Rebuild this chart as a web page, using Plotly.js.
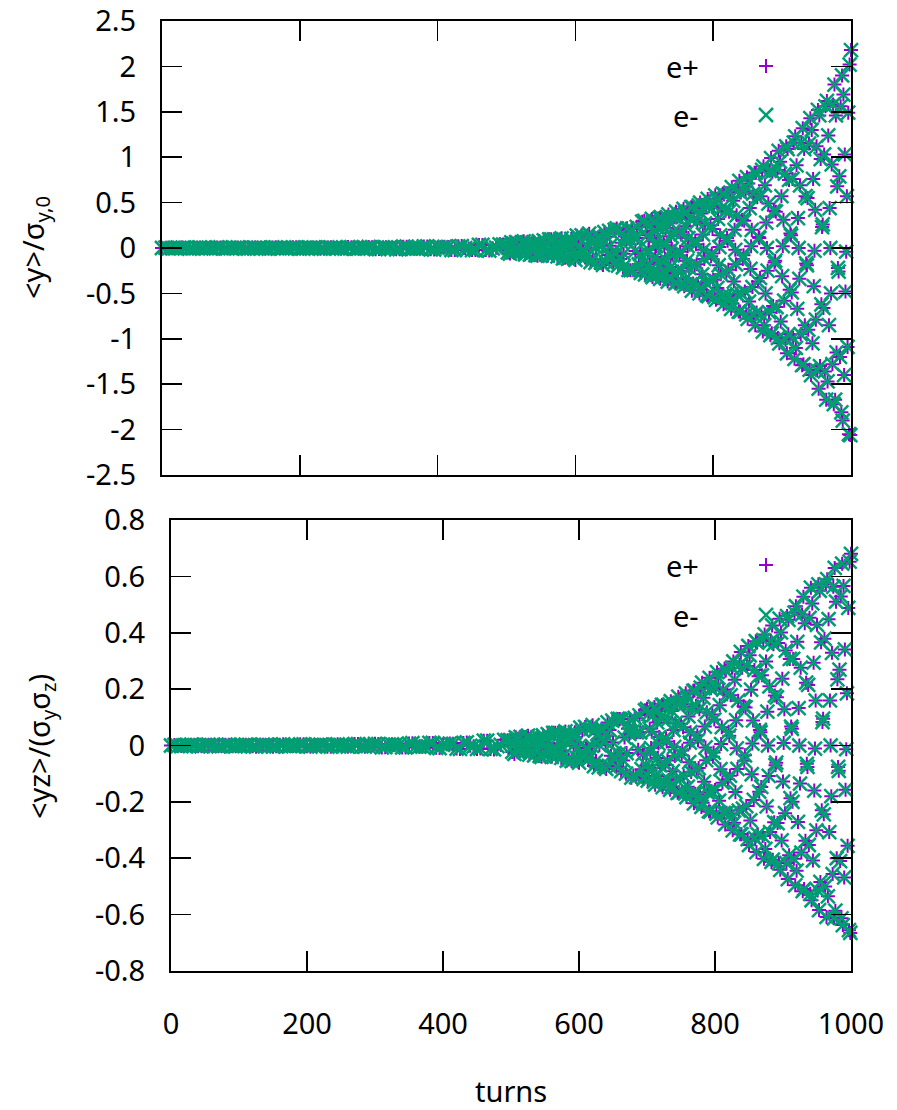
<!DOCTYPE html>
<html>
<head>
<meta charset="utf-8">
<script src="https://cdn.plot.ly/plotly-3.0.1.min.js"></script>
<style>html,body{margin:0;padding:0;background:#fff;}#plot{width:897px;height:1110px;}</style>
</head>
<body>
<div id="plot"></div>
<script>
// ---- data (read/; e+ and e- coincide within the marker size) ----
var turnsEarlyA = [0,10,20,30,40,50,60,70,80,90,100,110,120,130,140,150,160,170,180,190,200,210,220,230,240,250,260,270,280,290,300,310,320,330,340,350,360,370,380,390,400,410,420,430,440,450,460,470,480,490];
var turnsEarlyB = [5,15,25,35,45,55,65,75,85,95,105,115,125,135,145,155,165,175,185,195,205,215,225,235,245,255,265,275,285,295,305,315,325,335,345,355,365,375,385,395,405,415,425,435,445,455,465,475,485,495];
var turnsMidA = [500,505,510,515,520,525,530,535,540,545,550,555,560,565,570,575,580,585,590,595,600,605,610,615,620,625,630,635,640,645,650,655,660,665,670,675,680,685,690,695];
var turnsMidB = [502,507,512,517,522,527,532,537,542,547,552,557,562,567,572,577,582,587,592,597,602,607,612,617,622,627,632,637,642,647,652,657,662,667,672,677,682,687,692,697];
var turnsMidC = [504,509,514,519,524,529,534,539,544,549,554,559,564,569,574,579,584,589,594,599,604,609,614,619,624,629,634,639,644,649,654,659,664,669,674,679,684,689,694,699];
var turnsLateA = [700,703,706,709,712,715,718,721,724,727,730,733,736,739,742,745,748,751,754,757,760,763,766,769,772,775,778,781,784,787,790,793,796,799,802,805,808,811,814,817,820,823,826,829,832,835,838,841,844,847,850,853,856,859,862,865,868,871,874,877,880,883,886,889,892,895,898,901,904,907,910,913,916,919,922,925,928,931,934,937,940,943,946,949,952,955,958,961,964,967,970,973,976,979,982,985,988,991,994,997,1000];
var turnsLateB = [701,704,707,710,713,716,719,722,725,728,731,734,737,740,743,746,749,752,755,758,761,764,767,770,773,776,779,782,785,788,791,794,797,800,803,806,809,812,815,818,821,824,827,830,833,836,839,842,845,848,851,854,857,860,863,866,869,872,875,878,881,884,887,890,893,896,899,902,905,908,911,914,917,920,923,926,929,932,935,938,941,944,947,950,953,956,959,962,965,968,971,974,977,980,983,986,989,992,995,998];
var turnsLateC = [702,705,708,711,714,717,720,723,726,729,732,735,738,741,744,747,750,753,756,759,762,765,768,771,774,777,780,783,786,789,792,795,798,801,804,807,810,813,816,819,822,825,828,831,834,837,840,843,846,849,852,855,858,861,864,867,870,873,876,879,882,885,888,891,894,897,900,903,906,909,912,915,918,921,924,927,930,933,936,939,942,945,948,951,954,957,960,963,966,969,972,975,978,981,984,987,990,993,996,999];

// <y>/sigma_y,0
var yEarlyA = [0.000,-0.004,0.000,0.005,-0.006,0.003,0.001,-0.005,0.006,-0.003,-0.002,0.006,-0.006,0.002,0.003,-0.007,0.006,-0.001,-0.004,0.007,-0.006,0.000,0.006,-0.008,0.006,0.001,-0.008,0.010,-0.006,-0.002,0.011,-0.013,0.006,0.005,-0.014,0.014,-0.005,-0.008,0.017,-0.015,0.003,0.013,-0.022,0.018,-0.001,-0.023,0.034,-0.023,-0.004,0.040];
var yEarlyB = [0.003,-0.004,0.002,0.001,-0.005,0.006,-0.002,-0.003,0.006,-0.005,0.001,0.004,-0.007,0.005,0.000,-0.006,0.007,-0.004,-0.002,0.007,-0.007,0.003,0.004,-0.008,0.007,-0.001,-0.006,0.009,-0.007,0.000,0.009,-0.012,0.008,0.002,-0.013,0.015,-0.008,-0.005,0.017,-0.017,0.007,0.011,-0.023,0.021,-0.005,-0.022,0.034,-0.028,0.003,0.038];
var yMidA = [0.036,-0.061,0.049,-0.002,-0.050,0.073,-0.050,-0.008,0.066,-0.084,0.049,0.023,-0.084,0.096,-0.045,-0.041,0.107,-0.107,0.036,0.065,-0.131,0.116,-0.023,-0.094,0.158,-0.122,0.003,0.129,-0.186,0.124,0.024,-0.170,0.215,-0.121,-0.062,0.217,-0.244,0.110,0.109,-0.273];
var yMidB = [-0.049,0.061,-0.034,-0.018,0.062,-0.069,0.031,0.031,-0.078,0.077,-0.025,-0.049,0.095,-0.083,0.015,0.069,-0.115,0.087,0.000,-0.094,0.135,-0.088,-0.020,0.125,-0.155,0.086,0.048,-0.159,0.175,-0.076,-0.083,0.200,-0.193,0.059,0.126,-0.242,0.208,-0.032,-0.179,0.290];
var yMidC = [0.000,-0.045,0.065,-0.043,-0.010,0.060,-0.074,0.041,0.023,-0.077,0.085,-0.037,-0.040,0.096,-0.093,0.029,0.061,-0.117,0.100,-0.015,-0.086,0.140,-0.105,-0.003,0.117,-0.165,0.107,0.029,-0.154,0.188,-0.101,-0.061,0.197,-0.212,0.088,0.104,-0.244,0.233,-0.067,-0.157];
var yLateA = [0.30,-0.21,-0.02,0.25,-0.32,0.19,0.07,-0.29,0.34,-0.16,
  -0.12,0.34,-0.34,0.13,0.18,-0.39,0.34,-0.08,-0.25,0.43,
  -0.34,0.02,0.32,-0.47,0.32,0.04,-0.40,0.50,-0.29,-0.12,
  0.47,-0.53,0.25,0.21,-0.54,0.54,-0.19,-0.29,0.60,-0.54,
  0.11,0.40,-0.67,0.52,-0.02,-0.51,0.74,-0.50,-0.08,0.62,
  -0.78,0.44,0.20,-0.74,0.83,-0.37,-0.33,0.86,-0.85,0.28,
  0.49,-0.96,0.84,-0.16,-0.65,1.07,-0.81,0.02,0.82,-1.16,
  0.75,0.14,-0.99,1.23,-0.67,-0.34,1.16,-1.28,0.57,0.55,
  -1.34,1.30,-0.42,-0.79,1.52,-1.30,0.23,1.03,-1.67,1.24,
  0.00,-1.28,1.80,-1.15,-0.26,1.56,-1.90,1.03,0.57,-2.05,
  2.18];
var yLateB = [-0.29,0.14,0.11,-0.30,0.29,-0.10,-0.16,0.33,-0.29,0.06,
  0.22,-0.37,0.28,-0.01,-0.28,0.40,-0.26,-0.04,0.34,-0.42,
  0.24,0.11,-0.40,0.45,-0.20,-0.18,0.47,-0.46,0.15,0.27,
  -0.52,0.46,-0.09,-0.35,0.58,-0.44,0.01,0.44,-0.62,0.41,
  0.08,-0.53,0.67,-0.37,-0.18,0.63,-0.70,0.31,0.30,-0.73,
  0.71,-0.23,-0.43,0.83,-0.71,0.12,0.57,-0.92,0.69,0.00,
  -0.71,0.99,-0.64,-0.14,0.86,-1.05,0.57,0.31,-1.01,1.09,
  -0.46,-0.49,1.16,-1.10,0.33,0.69,-1.29,1.09,-0.17,-0.90,
  1.43,-1.05,-0.03,1.12,-1.55,0.98,0.26,-1.36,1.62,-0.85,
  -0.50,1.58,-1.67,0.68,0.79,-1.81,1.69,-0.48,-1.09,2.02];
var yLateC = [0.26,-0.06,-0.18,0.32,-0.25,0.02,0.23,-0.34,0.23,0.03,
  -0.28,0.37,-0.21,-0.08,0.34,-0.38,0.18,0.15,-0.39,0.39,
  -0.14,-0.22,0.45,-0.39,0.08,0.29,-0.50,0.38,-0.02,-0.38,
  0.54,-0.36,-0.06,0.46,-0.57,0.32,0.14,-0.53,0.59,-0.27,
  -0.24,0.61,-0.61,0.20,0.36,-0.70,0.61,-0.12,-0.48,0.78,
  -0.59,0.02,0.60,-0.85,0.56,0.11,-0.73,0.90,-0.50,-0.25,
  0.85,-0.94,0.41,0.40,-0.99,0.95,-0.31,-0.58,1.12,-0.95,
  0.16,0.76,-1.22,0.91,0.00,-0.95,1.32,-0.85,-0.19,1.15,
  -1.40,0.76,0.42,-1.35,1.46,-0.62,-0.66,1.56,-1.47,0.44,
  0.92,-1.72,1.46,-0.22,-1.20,1.90,-1.40,-0.04,1.49,-2.06];

// <yz>/(sigma_y sigma_z)
var yzEarlyA = [0.000,-0.002,0.000,0.003,-0.003,0.002,0.001,-0.003,0.003,-0.002,-0.001,0.003,-0.003,0.001,0.002,-0.004,0.003,-0.001,-0.002,0.004,-0.003,0.000,0.003,-0.004,0.003,0.001,-0.004,0.005,-0.003,-0.001,0.006,-0.007,0.003,0.003,-0.007,0.007,-0.003,-0.004,0.009,-0.008,0.002,0.007,-0.011,0.009,-0.001,-0.012,0.017,-0.012,-0.002,0.020];
var yzEarlyB = [0.002,-0.002,0.001,0.001,-0.003,0.003,-0.001,-0.002,0.003,-0.003,0.001,0.002,-0.004,0.003,0.000,-0.003,0.004,-0.002,-0.001,0.004,-0.004,0.002,0.002,-0.004,0.004,-0.001,-0.003,0.005,-0.004,0.000,0.005,-0.006,0.004,0.001,-0.007,0.008,-0.004,-0.003,0.009,-0.009,0.004,0.006,-0.012,0.011,-0.003,-0.011,0.017,-0.014,0.002,0.019];
var yzMidA = [0.017,-0.030,0.024,-0.001,-0.024,0.035,-0.024,-0.004,0.031,-0.040,0.023,0.011,-0.040,0.045,-0.021,-0.019,0.050,-0.050,0.017,0.030,-0.061,0.054,-0.011,-0.043,0.072,-0.055,0.001,0.058,-0.083,0.055,0.011,-0.075,0.094,-0.053,-0.027,0.094,-0.106,0.047,0.047,-0.118];
var yzMidB = [-0.023,0.029,-0.016,-0.008,0.029,-0.032,0.015,0.015,-0.037,0.036,-0.012,-0.023,0.045,-0.039,0.007,0.032,-0.054,0.041,0.000,-0.044,0.063,-0.041,-0.009,0.059,-0.073,0.040,0.023,-0.075,0.082,-0.036,-0.039,0.094,-0.091,0.028,0.059,-0.114,0.098,-0.015,-0.084,0.125];
var yzMidC = [0.000,-0.021,0.031,-0.020,-0.005,0.028,-0.035,0.019,0.011,-0.036,0.040,-0.017,-0.019,0.045,-0.044,0.014,0.029,-0.055,0.047,-0.007,-0.040,0.066,-0.049,-0.001,0.055,-0.078,0.050,0.014,-0.072,0.088,-0.047,-0.029,0.093,-0.100,0.041,0.049,-0.112,0.107,-0.031,-0.070];
var yzLateA = [0.130,-0.090,-0.009,0.108,-0.139,0.082,0.030,-0.127,0.144,-0.069,
  -0.053,0.146,-0.147,0.055,0.079,-0.168,0.150,-0.034,-0.108,0.185,
  -0.146,0.010,0.138,-0.205,0.141,0.019,-0.174,0.223,-0.129,-0.052,
  0.209,-0.235,0.110,0.092,-0.242,0.241,-0.084,-0.132,0.272,-0.239,
  0.049,0.178,-0.301,0.233,-0.010,-0.231,0.332,-0.224,-0.035,0.282,
  -0.353,0.198,0.089,-0.329,0.365,-0.164,-0.147,0.374,-0.367,0.120,
  0.210,-0.413,0.359,-0.070,-0.275,0.450,-0.337,0.009,0.337,-0.474,
  0.307,0.059,-0.402,0.494,-0.271,-0.135,0.465,-0.509,0.223,0.215,
  -0.526,0.504,-0.160,-0.301,0.572,-0.484,0.083,0.379,-0.608,0.448,
  0.000,-0.456,0.630,-0.400,-0.090,0.529,-0.637,0.341,0.185,-0.655,
  0.680];
var yzLateB = [-0.125,0.059,0.049,-0.128,0.127,-0.044,-0.070,0.144,-0.126,0.026,
  0.093,-0.157,0.122,-0.005,-0.120,0.173,-0.116,-0.018,0.146,-0.183,
  0.103,0.047,-0.174,0.195,-0.088,-0.080,0.205,-0.203,0.067,0.118,
  -0.233,0.203,-0.040,-0.158,0.260,-0.196,0.005,0.198,-0.280,0.182,
  0.035,-0.241,0.298,-0.165,-0.083,0.286,-0.315,0.139,0.135,-0.332,
  0.320,-0.102,-0.193,0.370,-0.315,0.055,0.249,-0.402,0.298,0.000,
  -0.307,0.426,-0.272,-0.061,0.364,-0.441,0.237,0.129,-0.417,0.446,
  -0.187,-0.200,0.471,-0.444,0.133,0.276,-0.517,0.434,-0.065,-0.353,
  0.560,-0.408,-0.011,0.428,-0.584,0.366,0.095,-0.500,0.590,-0.307,
  -0.180,0.563,-0.586,0.235,0.269,-0.613,0.566,-0.157,-0.356,0.652];
var yzLateC = [0.111,-0.025,-0.080,0.137,-0.108,0.007,0.100,-0.148,0.101,0.014,
  -0.122,0.157,-0.091,-0.037,0.147,-0.166,0.077,0.065,-0.170,0.170,
  -0.059,-0.094,0.194,-0.172,0.036,0.129,-0.218,0.169,-0.007,-0.167,
  0.240,-0.162,-0.025,0.204,-0.255,0.143,0.065,-0.239,0.266,-0.120,
  -0.107,0.276,-0.274,0.090,0.159,-0.315,0.276,-0.054,-0.215,0.353,
  -0.266,0.007,0.268,-0.378,0.246,0.047,-0.321,0.394,-0.216,-0.108,
  0.370,-0.405,0.177,0.171,-0.417,0.401,-0.128,-0.240,0.459,-0.389,
  0.067,0.307,-0.496,0.368,0.000,-0.380,0.528,-0.338,-0.076,0.453,
  -0.549,0.294,0.160,-0.514,0.549,-0.230,-0.244,0.572,-0.535,0.160,
  0.329,-0.613,0.510,-0.076,-0.410,0.645,-0.468,-0.013,0.488,-0.665];

var seriesNames = ['e+', 'e-'];
var xTickVals = [0,200,400,600,800,1000];
var xTickText = ['0','200','400','600','800','1000'];
var topTickVals = [-2.5,-2,-1.5,-1,-0.5,0,0.5,1,1.5,2,2.5];
var topTickText = ['-2.5','-2','-1.5','-1','-0.5','0','0.5','1','1.5','2','2.5'];
var botTickVals = [-0.8,-0.6,-0.4,-0.2,0,0.2,0.4,0.6,0.8];
var botTickText = ['-0.8','-0.6','-0.4','-0.2','0','0.2','0.4','0.6','0.8'];

// ---- build ----
var turns = [].concat(turnsEarlyA, turnsEarlyB, turnsMidA, turnsMidB, turnsMidC, turnsLateA, turnsLateB, turnsLateC);
var yTop = [].concat(yEarlyA, yEarlyB, yMidA, yMidB, yMidC, yLateA, yLateB, yLateC);
var yBot = [].concat(yzEarlyA, yzEarlyB, yzMidA, yzMidB, yzMidC, yzLateA, yzLateB, yzLateC);

var PURPLE = '#9400d3', GREEN = '#009e73';
var FONT = 'Noto Sans, sans-serif';
function tr(y, xa, ya, isPlus) {
  return {
    x: turns, y: y, xaxis: xa, yaxis: ya, type: 'scatter', mode: 'markers',
    name: isPlus ? seriesNames[0] : seriesNames[1], showlegend: false, cliponaxis: false,
    marker: {
      symbol: isPlus ? 'cross-thin-open' : 'x-thin-open', size: isPlus ? 10 : 14,
      color: isPlus ? PURPLE : GREEN,
      line: {color: isPlus ? PURPLE : GREEN, width: isPlus ? 2 : 2.5}
    }
  };
}
var data = [tr(yTop,'x','y',true), tr(yTop,'x','y',false), tr(yBot,'x2','y2',true), tr(yBot,'x2','y2',false)];

var W = 897, H = 1110;
function px(x){return x/W;} function py(y){return 1-y/H;}
var tickFont = {family: FONT, size: 29, color: '#000'};
var txtFont = {family: FONT, size: 29, color: '#000'};
var axCommon = {showline: true, linewidth: 2, linecolor: '#000', mirror: 'allticks', ticks: 'inside', ticklen: 20, tickwidth: 1.6, tickcolor: '#000', showgrid: false, zeroline: false, tickfont: tickFont};

function ann(text, x, y, opts) {
  return Object.assign({text: text, xref: 'paper', yref: 'paper', x: px(x), y: py(y), xanchor: 'center', yanchor: 'middle', showarrow: false, font: txtFont}, opts || {});
}
function keyShape(x, y, isPlus) {
  return {type: 'path', xref: 'paper', yref: 'paper', xsizemode: 'pixel', ysizemode: 'pixel', xanchor: px(x), yanchor: py(y),
    path: isPlus ? 'M-7,0L7,0M0,-7L0,7' : 'M-7,-7L7,7M-7,7L7,-7', line: {color: isPlus ? PURPLE : GREEN, width: isPlus ? 2 : 2.5}};
}

var layout = {
  width: W, height: H, margin: {l:0, r:0, t:0, b:0}, paper_bgcolor: '#fff', plot_bgcolor: '#fff', showlegend: false,
  xaxis: Object.assign({}, axCommon, {domain:[px(162), px(851)], range:[0,1000], tickvals: xTickVals, ticktext: xTickText, showticklabels: false, anchor: 'y'}),
  yaxis: Object.assign({}, axCommon, {domain:[py(475), py(21)], range:[-2.5,2.5], tickvals: topTickVals, ticktext: topTickText, ticklabelstandoff: 18, anchor: 'x'}),
  xaxis2: Object.assign({}, axCommon, {domain:[px(171), px(851)], range:[0,1000], tickvals: xTickVals, ticktext: xTickText, ticklabelstandoff: 26, anchor: 'y2'}),
  yaxis2: Object.assign({}, axCommon, {domain:[py(971), py(520)], range:[-0.8,0.8], tickvals: botTickVals, ticktext: botTickText, ticklabelstandoff: 18, anchor: 'x2'}),
  annotations: [
    ann('&lt;y&gt;/σ<sub>y,0</sub>', 35, 248, {textangle: -90}),
    ann('&lt;yz&gt;/(σ<sub>y</sub>σ<sub>z</sub>)', 40, 747, {textangle: -90}),
    ann('turns', 511, 1090),
    ann(seriesNames[0], 701, 66, {xanchor: 'right'}),
    ann(seriesNames[1], 701, 115, {xanchor: 'right'}),
    ann(seriesNames[0], 701, 565, {xanchor: 'right'}),
    ann(seriesNames[1], 701, 615, {xanchor: 'right'})
  ],
  shapes: [keyShape(766, 66, true), keyShape(766, 115, false), keyShape(766, 565, true), keyShape(766, 615, false)]
};
Plotly.newPlot('plot', data, layout, {displayModeBar: false, staticPlot: true});
</script>
</body>
</html>
